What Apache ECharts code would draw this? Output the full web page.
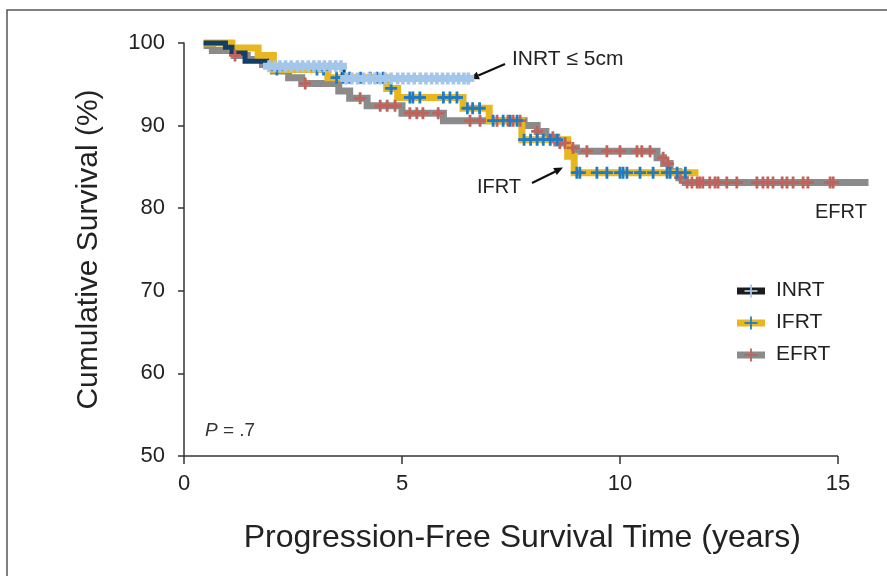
<!DOCTYPE html>
<html><head><meta charset="utf-8">
<script src="https://cdn.jsdelivr.net/npm/echarts/dist/echarts.min.js"></script>
<style>html,body{margin:0;padding:0;background:#fff}#c{width:887px;height:576px}</style>
</head><body><div id="c"></div>
<script>
// ---- data ----
const xTicks = [0, 5, 10, 15];
const xDataMax = 15.7;
const yTicks = [50, 60, 70, 80, 90, 100];
const groupNames = ['INRT', 'IFRT', 'EFRT'];

const inrtTimes = [0.45, 0.95, 1.1, 1.4, 1.9, 3.65, 6.55];
const inrtSurv  = [100, 99.5, 98.8, 97.8, 97.2, 95.7, 95.7];
const inrtCensor = [1.95,2.08,2.2,2.33,2.46,2.6,2.72,2.85,2.98,3.1,3.22,3.35,3.48,3.6,3.72,3.85,3.98,4.12,4.25,4.38,4.5,4.62,4.75,4.9,5.02,5.15,5.28,5.42,5.55,5.68,5.8,5.93,6.05,6.18,6.3,6.42,6.52];

const ifrtTimes = [0.45, 1.1, 1.7, 2.05, 3.3, 4.65, 4.9, 6.4, 7.0, 7.75, 8.8, 8.95, 11.8];
const ifrtSurv  = [100, 99.4, 98.5, 96.8, 95.8, 94.5, 93.4, 92.1, 90.6, 88.3, 86.3, 84.3, 84.3];
const ifrtCensor = [2.13,3.05,3.2,3.5,3.65,3.8,4.05,4.27,4.43,4.57,4.75,5.18,5.25,5.41,5.95,6.1,6.26,6.5,6.62,6.78,7.09,7.32,7.48,7.64,7.8,7.95,8.1,8.24,8.4,8.56,9.01,9.08,9.47,9.7,10.0,10.07,10.16,10.46,10.76,11.08,11.15,11.31,11.5];

const efrtTimes = [0.45,0.65,1.15,1.45,1.8,2.05,2.4,2.7,3.55,3.8,4.2,5.0,5.95,7.8,8.1,8.3,8.55,8.8,9.0,10.85,11.0,11.15,11.35,11.5,15.7];
const efrtSurv  = [99.7,99.1,98.5,98.0,97.4,96.6,95.8,95.1,94.2,93.3,92.4,91.5,90.6,90.0,89.3,88.6,87.9,87.3,86.9,86.1,85.4,84.4,83.7,83.1,83.1];
const efrtCensor = [1.17,2.78,4.04,4.5,4.66,4.84,5.18,5.34,5.48,5.83,6.56,6.79,7.18,7.43,7.55,7.71,8.1,8.46,8.62,8.74,8.92,9.24,9.7,10.0,10.39,10.5,10.69,10.99,11.1,11.38,11.54,11.65,11.77,11.83,11.9,12.06,12.18,12.25,12.45,12.68,13.14,13.28,13.39,13.51,13.72,13.83,13.97,14.2,14.31,14.82,14.89];

const pText = 'P = .7';
const inrtNote = 'INRT ≤ 5cm';

// ---- helpers ----
function pairs(ts, ss){ return ts.map((t,i)=>[t, ss[i]]); }
function survAt(ts, ss, t){ let v = ss[0]; for(let i=0;i<ts.length;i++){ if(ts[i] <= t) v = ss[i]; } return v; }
function censorPts(cs, ts, ss){ return cs.map(t=>[t, survAt(ts, ss, t)]); }

const COL = {navy:'#123f68', lightBlue:'#a4c6ea', gold:'#e8b720', blue:'#1f7cc4', gray:'#8b8b8b', red:'#c3625a'};
const crossThin  = 'path://M0,4.6H12V7.4H0Z M4.6,0H7.4V12H4.6Z';
const crossThick = 'path://M0,2.5H12V9.5H0Z M4.2,0H7.8V12H4.2Z';
const FONT = 'Liberation Sans';

const chart = echarts.init(document.getElementById('c'), null, {renderer:'canvas'});

function lineSeries(name, data, color, width){
  return {name, type:'line', step:'end', data, symbol:'none', clip:false, z:2,
    lineStyle:{color, width, join:'miter', cap:'butt'}, itemStyle:{color}};
}
function censorSeries(name, data, color, path){
  return {name, type:'scatter', data, symbol:path, symbolSize:[12,12], clip:false, z:3,
    itemStyle:{color, opacity:1}, silent:true};
}

function legendRow(y, lineCol, crossCol, label){
  return [
    {type:'rect', shape:{x:737, y:y-3.5, width:28, height:7}, style:{fill:lineCol}},
    {type:'rect', shape:{x:744.5, y:y-0.9, width:13, height:1.8}, style:{fill:crossCol}},
    {type:'rect', shape:{x:750.1, y:y-6.5, width:1.8, height:13}, style:{fill:crossCol}},
    {type:'text', left:776, top:y-11, style:{text:label, font:'21px "'+FONT+'"', fill:'#222'}}
  ];
}

const axisLineSeries = {
  name:'x axis line', type:'line', data:[], silent:true, z:1,
  markLine:{silent:true, symbol:'none', label:{show:false}, animation:false,
    lineStyle:{color:'#333', width:1.5, type:'solid'},
    data:[[{coord:[xTicks[0], yTicks[0]]}, {coord:[xTicks[xTicks.length-1], yTicks[0]]}]]}
};

const option = {
  animation:false,
  backgroundColor:'#fff',
  grid:{left:184, right:18.5, top:43, bottom:120, containLabel:false},
  xAxis:{type:'value', min:xTicks[0], max:xDataMax, interval:5,
    name:'Progression-Free Survival Time (years)', nameLocation:'middle', nameGap:66,
    nameTextStyle:{fontFamily:FONT, fontSize:32, color:'#222', padding:[0,8,0,0], align:'center'},
    axisLine:{show:false},
    axisTick:{show:true, length:8, customValues:xTicks, lineStyle:{color:'#333', width:1.5}},
    axisLabel:{fontFamily:FONT, fontSize:22, color:'#222', margin:17, customValues:xTicks},
    splitLine:{show:false}},
  yAxis:{type:'value', min:yTicks[0], max:yTicks[yTicks.length-1], interval:10,
    name:'Cumulative Survival (%)', nameLocation:'middle', nameGap:80, nameRotate:90,
    nameTextStyle:{fontFamily:FONT, fontSize:30, color:'#222'},
    axisLine:{show:true, lineStyle:{color:'#333', width:1.5}},
    axisTick:{show:true, length:6, lineStyle:{color:'#333', width:1.5}},
    axisLabel:{fontFamily:FONT, fontSize:22, color:'#222', margin:19},
    splitLine:{show:false}},
  series:[
    axisLineSeries,
    lineSeries('EFRT', pairs(efrtTimes, efrtSurv), COL.gray, 7),
    lineSeries('IFRT', pairs(ifrtTimes, ifrtSurv), COL.gold, 7),
    lineSeries('INRT', pairs(inrtTimes, inrtSurv), COL.navy, 5),
    censorSeries('EFRT censored', censorPts(efrtCensor, efrtTimes, efrtSurv), COL.red, crossThin),
    censorSeries('IFRT censored', censorPts(ifrtCensor, ifrtTimes, ifrtSurv), COL.blue, crossThin),
    censorSeries('INRT censored', censorPts(inrtCensor, inrtTimes, inrtSurv), COL.lightBlue, crossThick)
  ],
  graphic:[
    {type:'rect', shape:{x:7, y:10, width:900, height:600}, style:{fill:'none', stroke:'#555', lineWidth:1.5}, z:-1},
    ...legendRow(291, '#1c1c1c', COL.lightBlue, groupNames[0]),
    ...legendRow(323, COL.gold, COL.blue, groupNames[1]),
    ...legendRow(355, COL.gray, COL.red, groupNames[2]),
    {type:'text', left:512, top:49, style:{text:inrtNote, font:'21px "'+FONT+'"', fill:'#222'}},
    {type:'line', shape:{x1:505, y1:64, x2:478.3, y2:75.5}, style:{stroke:'#111', lineWidth:2.2}},
    {type:'polygon', shape:{points:[[470,79],[479.9,79.2],[476.7,71.8]]}, style:{fill:'#111'}},
    {type:'text', left:477, top:177, style:{text:groupNames[1], font:'20px "'+FONT+'"', fill:'#222'}},
    {type:'line', shape:{x1:532, y1:183, x2:555.5, y2:171.5}, style:{stroke:'#111', lineWidth:2.2}},
    {type:'polygon', shape:{points:[[563,167.5],[556.8,175.1],[553.2,167.9]]}, style:{fill:'#111'}},
    {type:'text', left:815, top:202, style:{text:groupNames[2], font:'20px "'+FONT+'"', fill:'#222'}},
    {type:'text', left:205, top:421, style:{rich:{i:{fontStyle:'italic', fontFamily:FONT, fontSize:19, fill:'#333'}, n:{fontFamily:FONT, fontSize:19, fill:'#333'}}, text:'{i|P}{n|' + pText.slice(1) + '}'}}
  ]
};
chart.setOption(option);
</script></body></html>
